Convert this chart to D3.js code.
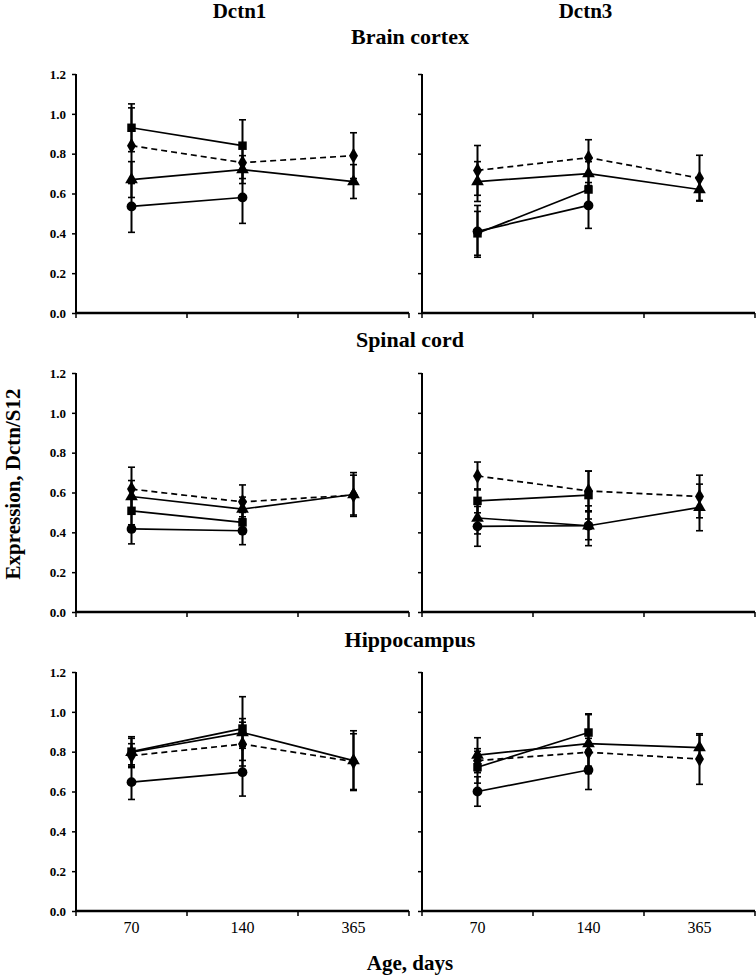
<!DOCTYPE html>
<html><head><meta charset="utf-8">
<script src="https://cdn.jsdelivr.net/npm/d3@7"></script>
<style>
html,body{margin:0;padding:0;background:#fff;}
svg{display:block;}
text{font-family:"Liberation Serif","Times New Roman",serif;fill:#000;}
</style></head>
<body>
<svg id="chart" width="756" height="977"></svg>
<script>
// ---------- data ----------
const ages = ["70", "140", "365"];
const yTicks = [0, 0.2, 0.4, 0.6, 0.8, 1.0, 1.2];
const genes = ["Dctn1", "Dctn3"];
const tissues = ["Brain cortex", "Spinal cord", "Hippocampus"];
// series order: square, diamond (dashed), triangle, circle
const markerShapes = ["square", "diamond", "triangle", "circle"];

const cortexDctn1Means  = [[0.93, 0.84, null], [0.84, 0.755, 0.79], [0.67, 0.72, 0.66], [0.535, 0.58, null]];
const cortexDctn1Errors = [[0.12, 0.13, null], [0.19, 0.08, 0.115], [0.09, 0.07, 0.085], [0.13, 0.13, null]];
const cortexDctn3Means  = [[0.40, 0.62, null], [0.716, 0.78, 0.677], [0.66, 0.70, 0.62], [0.41, 0.54, null]];
const cortexDctn3Errors = [[0.11, 0.08, null], [0.125, 0.09, 0.115], [0.10, 0.06, 0.055], [0.13, 0.115, null]];

const spinalDctn1Means  = [[0.508, 0.45, null], [0.617, 0.553, 0.587], [0.58, 0.517, 0.59], [0.417, 0.408, null]];
const spinalDctn1Errors = [[0.07, 0.05, null], [0.11, 0.085, 0.10], [0.08, 0.06, 0.11], [0.075, 0.07, null]];
const spinalDctn3Means  = [[0.558, 0.587, null], [0.683, 0.608, 0.58], [0.472, 0.433, 0.525], [0.43, 0.433, null]];
const spinalDctn3Errors = [[0.06, 0.12, null], [0.07, 0.10, 0.107], [0.08, 0.07, 0.117], [0.10, 0.10, null]];

const hippoDctn1Means   = [[0.80, 0.916, null], [0.78, 0.838, 0.75], [0.797, 0.896, 0.755], [0.647, 0.697, null]];
const hippoDctn1Errors  = [[0.075, 0.16, null], [0.06, 0.11, 0.14], [0.07, 0.07, 0.15], [0.087, 0.12, null]];
const hippoDctn3Means   = [[0.722, 0.896, null], [0.755, 0.797, 0.763], [0.783, 0.84, 0.82], [0.60, 0.708, null]];
const hippoDctn3Errors  = [[0.08, 0.09, null], [0.06, 0.07, 0.127], [0.087, 0.15, 0.063], [0.074, 0.098, null]];

const panelMeans  = [[cortexDctn1Means, cortexDctn3Means], [spinalDctn1Means, spinalDctn3Means], [hippoDctn1Means, hippoDctn3Means]];
const panelErrors = [[cortexDctn1Errors, cortexDctn3Errors], [spinalDctn1Errors, spinalDctn3Errors], [hippoDctn1Errors, hippoDctn3Errors]];

// ---------- layout ----------
const svg = d3.select("#chart");
const serif = '"Liberation Serif","Times New Roman",serif';
const colX = [76, 422];
const rowTop = [74, 373, 672];
const plotW = 333, plotH = 239;

const x = d3.scaleBand().domain(ages).range([0, plotW]).padding(0);
const y = d3.scaleLinear().domain([0, 1.2]).range([plotH, 0]);

const symbolFor = {
  square: d3.symbol().type(d3.symbolSquare).size(72),
  diamond: d3.symbol().type(d3.symbolDiamond).size(70),
  triangle: d3.symbol().type(d3.symbolTriangle).size(70),
  circle: d3.symbol().type(d3.symbolCircle).size(75)
};

// column titles
genes.forEach((g, c) => {
  svg.append("text").attr("x", colX[c] + plotW / 2 - 3).attr("y", 18)
    .attr("text-anchor", "middle").attr("font-size", 21).attr("font-weight", "bold").text(g);
});
// tissue titles
const titleY = [44, 347, 647];
tissues.forEach((t, r) => {
  svg.append("text").attr("x", 410).attr("y", titleY[r])
    .attr("text-anchor", "middle").attr("font-size", 22).attr("font-weight", "bold").text(t);
});

for (let r = 0; r < 3; r++) {
  for (let c = 0; c < 2; c++) {
    const g = svg.append("g").attr("transform", `translate(${colX[c]},${rowTop[r]})`);
    // y axis
    const yAxis = d3.axisLeft(y).tickValues(yTicks).tickSize(4).tickPadding(6)
      .tickFormat(c === 0 ? d3.format(".1f") : () => "");
    const ya = g.append("g").call(yAxis).attr("font-family", serif);
    ya.select(".domain").attr("stroke-width", 2).attr("d", `M0,${plotH}V0`);
    ya.selectAll(".tick line").attr("stroke-width", 1.5);
    ya.selectAll("text").attr("font-size", 13).attr("font-weight", "bold")
      .style("font-family", serif).attr("fill", "#000");
    // x axis with ticks at band boundaries
    const xa = g.append("g").attr("transform", `translate(0,${plotH})`);
    xa.append("line").attr("x1", 0).attr("x2", plotW).attr("stroke", "#000").attr("stroke-width", 2.5);
    const bounds = ages.map(a => x(a)).concat([plotW]);
    xa.selectAll("line.bt").data(bounds).join("line").attr("class", "bt")
      .attr("x1", d => d).attr("x2", d => d).attr("y1", 0).attr("y2", 5)
      .attr("stroke", "#000").attr("stroke-width", 1.5);
    if (r === 2) {
      xa.selectAll("text.xl").data(ages).join("text").attr("class", "xl")
        .attr("x", d => x(d) + x.bandwidth() / 2).attr("y", 22)
        .attr("text-anchor", "middle").attr("font-size", 16).text(d => d);
    }

    const means = panelMeans[r][c];
    const errs = panelErrors[r][c];
    const cx = a => x(a) + x.bandwidth() / 2;

    // error bars
    means.forEach((s, si) => {
      s.forEach((v, ai) => {
        if (v === null) return;
        const e = errs[si][ai];
        const xc = cx(ages[ai]);
        const eg = g.append("g").attr("stroke", "#000").attr("stroke-width", 2);
        eg.append("line").attr("x1", xc).attr("x2", xc).attr("y1", y(v - e)).attr("y2", y(v + e));
        eg.append("line").attr("x1", xc - 3.5).attr("x2", xc + 3.5).attr("y1", y(v - e)).attr("y2", y(v - e)).attr("stroke-width", 1.6);
        eg.append("line").attr("x1", xc - 3.5).attr("x2", xc + 3.5).attr("y1", y(v + e)).attr("y2", y(v + e)).attr("stroke-width", 1.6);
      });
    });

    // lines
    means.forEach((s, si) => {
      const line = d3.line().defined(d => d.v !== null).x(d => cx(d.a)).y(d => y(d.v));
      g.append("path").datum(s.map((v, i) => ({ a: ages[i], v })))
        .attr("d", line).attr("fill", "none").attr("stroke", "#000")
        .attr("stroke-width", 1.7)
        .attr("stroke-dasharray", markerShapes[si] === "diamond" ? "6,4" : null);
    });

    // markers
    means.forEach((s, si) => {
      s.forEach((v, ai) => {
        if (v === null) return;
        g.append("path").attr("d", symbolFor[markerShapes[si]]())
          .attr("transform", `translate(${cx(ages[ai])},${y(v)})`).attr("fill", "#000");
      });
    });
  }
}

// axis titles
svg.append("text").attr("x", 410).attr("y", 970).attr("text-anchor", "middle")
  .attr("font-size", 21).attr("font-weight", "bold").text("Age, days");
svg.append("text").attr("transform", "translate(20,484) rotate(-90)").attr("text-anchor", "middle")
  .attr("font-size", 21).attr("font-weight", "bold").text("Expression, Dctn/S12");
</script>
</body></html>
